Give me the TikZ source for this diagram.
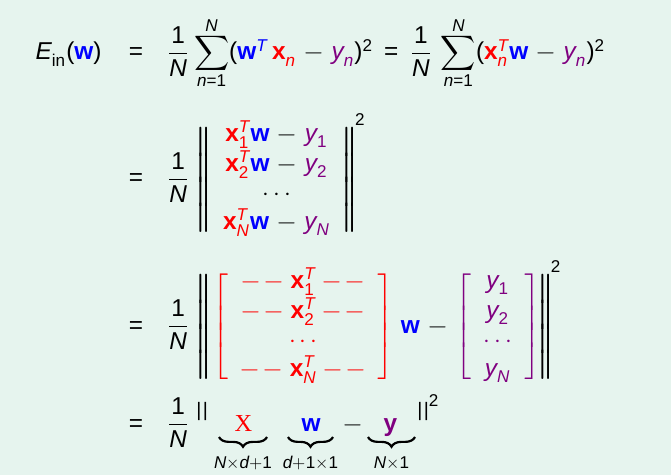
\documentclass[tikz,border=0pt]{standalone}
\usepackage{fontspec}
\setmainfont{Liberation Sans}
\newfontfamily\serifX{Liberation Serif}
\usepackage{amsmath}
\usepackage{unicode-math}
\setmathfont{Latin Modern Math}
\setmathfont{Liberation Sans Italic}[range=it/{latin,Latin}]
\setmathfont{Liberation Sans Bold}[range=bfup/{latin,Latin}]
\setmathfont{Liberation Sans}[range={up/num,"2212,"003D,"0028,"0029}]
\usepackage{xcolor}
\usetikzlibrary{decorations.pathreplacing}

\definecolor{bgmint}{RGB}{230,244,238}
\definecolor{wblue}{RGB}{0,0,255}
\definecolor{xred}{RGB}{255,0,0}
\definecolor{ypurple}{RGB}{128,0,128}

\newcommand{\wv}{{\color{wblue}\symbf{w}}}
\newcommand{\xv}[1]{{\color{xred}\symbf{x}_{#1}}}
\newcommand{\xt}[1]{{\color{xred}\symbf{x}_{#1}^{T}}}
\newcommand{\yv}[1]{{\color{ypurple}y_{#1}}}
\newcommand{\rowdash}[1]{{-}\,{-}\;\symbf{x}_{#1}^{T}\;{-}\,{-}}
\newcommand{\vdotrow}{{\cdot}\,{\cdot}\,{\cdot}}
\newcommand{\smallnorm}{\mbox{\raisebox{6pt}{\fontsize{8}{8}\selectfont|\kern0.5pt|}}}

\tikzset{
  eqsign/.style={anchor=base, inner sep=0pt},
  lhsbox/.style={anchor=base east, inner sep=0pt},
  rhsbox/.style={anchor=base west, inner sep=0pt},
  underbr/.style={decorate, decoration={brace, mirror, amplitude=4pt}, line width=0.9pt}
}

\begin{document}
\begin{tikzpicture}[x=0.41pt, y=-0.41pt]
        \setlength{\arraycolsep}{6pt}
        \medmuskip=6mu plus 2mu minus 2mu
        \fill[bgmint] (0,0) rectangle (671,475);
        \useasboundingbox (0,0) rectangle (671,475);
        % left hand side
        \node[lhsbox] (lhs) at (102,60) {$E_{\mathrm{in}}(\wv)$};
        % equals signs
        \foreach \y/\n in {60/1,186/2,333/3,431/4}
            \node[eqsign] (eq\n) at (136,\y) {$=$};
        % right hand sides
        \node[rhsbox] (rhsa) at (166,60)
            {$\displaystyle\frac{1}{N}\sum_{n=1}^{N}({\color{wblue}\symbf{w}^{T}}\,\xv{n}-\yv{n})^{2}
              \,=\,\frac{1}{N}\,\sum_{n=1}^{N}(\xt{n}\wv-\yv{n})^{2}$};
        \node[rhsbox] (rhsb) at (166,186)
            {$\displaystyle\frac{1}{N}\,\left\|\begin{array}{c}
                \xt{1}\wv-\yv{1}\\
                \xt{2}\wv-\yv{2}\\
                \vdotrow\\
                \xt{N}\wv-\yv{N}
              \end{array}\right\|^{2}$};
        \node[rhsbox] (rhsc) at (166,333)
            {$\displaystyle\arraycolsep=5pt\frac{1}{N}\,\left\|\,{\color{xred}\left[\begin{array}{c}
                \rowdash{1}\\
                \rowdash{2}\\
                \vdotrow\\
                \rowdash{N}
              \end{array}\right]}\;\wv-{\color{ypurple}\left[\begin{array}{c}
                y_{1}\\ y_{2}\\ \vdotrow\\ y_{N}
              \end{array}\right]}\right\|^{2}$};
        % last line: X w - y with braces
        \node[rhsbox] (rhsd) at (166,431) {$\displaystyle\frac{1}{N}$};
        \node[rhsbox] (normL) at (196,431) {$\smallnorm$};
        \node[eqsign, text=xred] (Xmat) at (243.5,431) {\serifX X};
        \node[eqsign] (wvec) at (311,431) {$\wv$};
        \node[eqsign] (minus) at (353,431) {$-$};
        \node[eqsign, text=ypurple] (yvec) at (390.5,431) {$\symbf{y}$};
        \node[rhsbox] (normR) at (417,431) {$\smallnorm^{2}$};
        \foreach \a/\b/\lab/\n in {219/267/N\times d+1/X, 288/333/d+1\times 1/w, 368/415/N\times 1/y}{
            \draw[underbr] (\a,437) -- (\b,437);
            \node[eqsign] (dim\n) at ({(\a+\b)/2},468) {$\scriptstyle \lab$};
        }
\end{tikzpicture}
\end{document}
